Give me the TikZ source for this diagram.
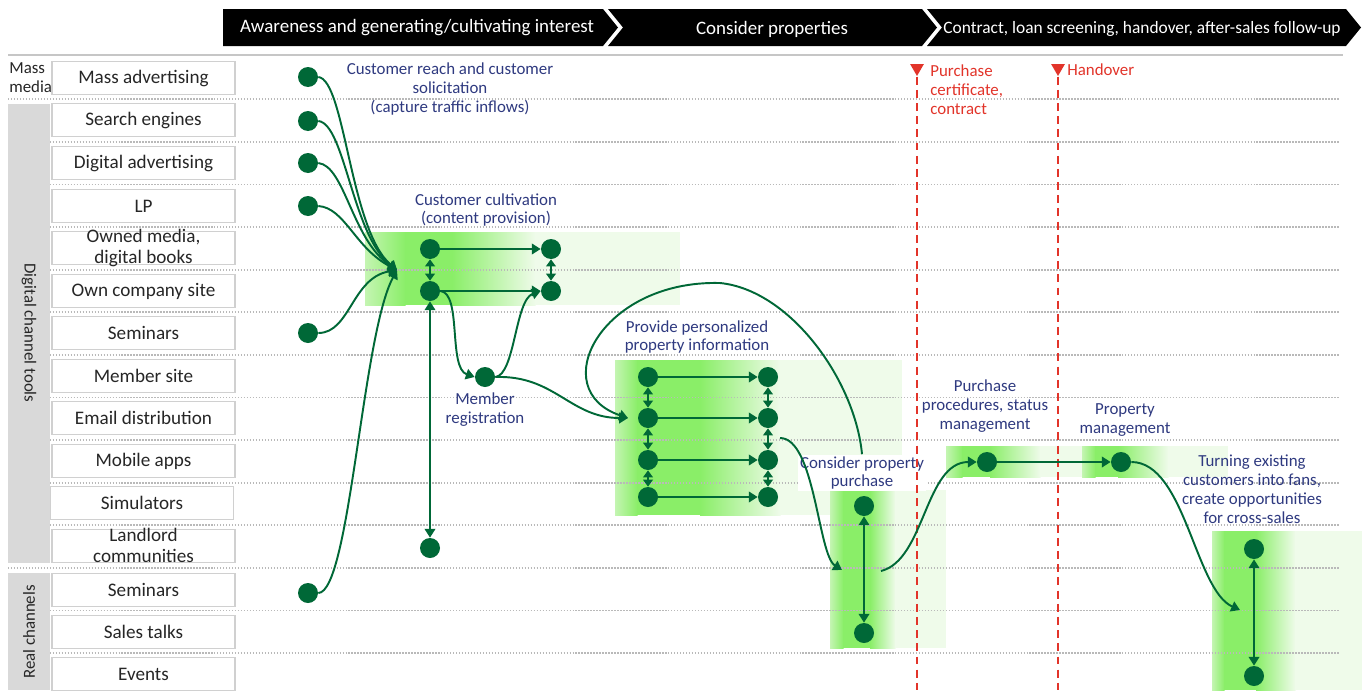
\documentclass[tikz,border=0pt]{standalone}
\usepackage{fontspec}
\setmainfont{Carlito}
\usetikzlibrary{arrows.meta,shapes.geometric}

\definecolor{dkgreen}{RGB}{0,104,55}
\definecolor{stepblue}{RGB}{47,58,128}
\definecolor{markred}{RGB}{226,52,42}
\definecolor{barGray}{RGB}{217,217,217}
\definecolor{boxGray}{RGB}{208,208,208}
\definecolor{dotGray}{RGB}{185,185,185}
\definecolor{gBright}{RGB}{138,238,104}
\definecolor{gLight}{RGB}{196,245,178}
\definecolor{gPale}{RGB}{239,251,234}

\newcommand{\lblfont}{\fontsize{9.6}{10.8}\selectfont}
\newcommand{\chanfont}{\fontsize{10.9}{12}\selectfont}
\newcommand{\hdrfont}{\fontsize{10.8}{12}\selectfont}
\newcommand{\twoline}[2]{\raisebox{-2.6pt}[0pt][0pt]{\parbox[c]{3.4cm}{\centering #1\\#2}}}
% green band: light -> bright -> pale, x0..x4, y0..y1
\newcommand{\greenband}[7]{%
  \shade[left color=gLight,right color=gBright] (#1,#6) rectangle (#2+0.5,#7);
  \fill[gBright] (#2,#6) rectangle (#3+0.5,#7);
  \shade[left color=gBright,right color=gPale] (#3,#6) rectangle (#4+0.5,#7);
  \fill[gPale] (#4,#6) rectangle (#5,#7);}

\begin{document}
\begin{tikzpicture}[x=0.02cm,y=-0.02cm,
  >={Triangle[length=5pt,width=6pt]},
  dot/.style={circle,fill=dkgreen,minimum size=0.4cm,inner sep=0pt},
  chan/.style={draw=boxGray,line width=0.9pt,fill=white,minimum width=3.66cm,
    minimum height=0.66cm,inner sep=0pt,font=\chanfont,text=black!85},
  stepname/.style={text=stepblue,font=\lblfont,align=center,inner sep=1pt},
  flow/.style={draw=dkgreen,line width=1.1pt,->},
  twoway/.style={draw=dkgreen,line width=1.1pt,<->},
  shortway/.style={draw=dkgreen,line width=1.1pt,
    {Triangle[length=4pt,width=5.5pt]}-{Triangle[length=4pt,width=5.5pt]}},
  lane/.style={dotGray,line width=0.8pt,dash pattern=on 0.8pt off 0.9pt},
  stage/.style={text=white,font=\hdrfont},
  cutoff/.style={markred,line width=1.1pt,dash pattern=on 4.5pt off 3pt},
  milestone/.style={regular polygon,regular polygon sides=3,shape border rotate=180,
    fill=markred,minimum size=0.32cm,inner sep=0pt},
  redtag/.style={text=markred,font=\lblfont,align=left,anchor=west,inner sep=0pt}]
\useasboundingbox (0,0) rectangle (1362,690);
\fill[white] (0,0) rectangle (1362,690);

% phases
\fill (223,9) -- (603,9) -- (618,27.5) -- (603,46) -- (223,46) -- cycle;
\fill (608,9) -- (922,9) -- (937,27.5) -- (922,46) -- (608,46) -- (623,27.5) -- cycle;
\fill (927,9) -- (1346,9) -- (1361,27.5) -- (1346,46) -- (927,46) -- (942,27.5) -- cycle;
\node[stage] (st1) at (417,27.5) {Awareness and generating/cultivating interest};
\node[stage] (st2) at (772,29) {Consider properties};
\node[stage,font=\fontsize{9.9}{12}\selectfont] (st3) at (1142,29) {Contract, loan screening, handover, after-sales follow-up};
\draw[gray!45,line width=1.2pt] (8,55) -- (1343,55);

% green areas
\greenband{365}{405}{452}{535}{680}{232}{305}
\greenband{615}{637}{700}{780}{902}{360}{515}
\greenband{830}{843}{870}{895}{946}{490}{648}
\greenband{946}{962}{990}{1040}{1082}{446}{477}
\greenband{1082}{1095}{1118}{1168}{1228}{446}{477}
\greenband{1212}{1224}{1256}{1295}{1362}{531}{690}

% lanes
\foreach \y in {99,142,184.5,227,270,312,355,397.5,440,483,525,568,610.5,653}
  \draw[lane] (8,\y) -- (1340,\y);

% channels
\fill[barGray] (8,104) rectangle (50,563);
\fill[barGray] (8,573) rectangle (50,690);
\node[font=\lblfont,align=left,anchor=west,inner sep=0pt,text=black!85] (mass) at (9,78) {Mass\\media};
\node[rotate=-90,font=\lblfont,text=black!85] (digi) at (29,333) {Digital channel tools};
\node[rotate=90,font=\lblfont,text=black!85] (real) at (29,632) {Real channels};

\node[chan] (massad) at (143.5,78) {Mass advertising};
\node[chan] (search) at (143.5,120) {Search engines};
\node[chan] (digad) at (143.5,163) {Digital advertising};
\node[chan] (lp) at (143.5,206) {LP};
\node[chan] (owned) at (143.5,248) {\twoline{Owned media,}{digital books}};
\node[chan] (site) at (143.5,291) {Own company site};
\node[chan] (webinar) at (143.5,333) {Seminars};
\node[chan] (member) at (143.5,376) {Member site};
\node[chan] (email) at (143.5,418) {Email distribution};
\node[chan] (apps) at (143.5,461) {Mobile apps};
\node[chan] (sim) at (142,503) {Simulators};
\node[chan] (landlord) at (143.5,546) {\twoline{Landlord}{communities}};
\node[chan] (seminar) at (143.5,590) {Seminars};
\node[chan] (talks) at (143.5,632) {Sales talks};
\node[chan] (events) at (143.5,674) {Events};

% step labels
\node[stepname] (reachlbl) at (450,89) {Customer reach and customer\\solicitation\\(capture traffic inflows)};
\node[stepname] (cultlbl) at (486,210) {Customer cultivation\\(content provision)};
\node[stepname] (perslbl) at (697,337) {Provide personalized\\property information};
\node[stepname] (memberlbl) at (485,410) {Member\\registration};
\node[stepname,fill=white] (conslbl) at (862,473) {Consider property\\purchase};
\node[stepname] (proclbl) at (985,406) {Purchase\\procedures, status\\management};
\node[stepname] (mgmtlbl) at (1125,420) {Property\\management};
\node[stepname] (fanlbl) at (1252,489) {Turning existing\\customers into fans,\\create opportunities\\for cross-sales};

% milestones
\node[milestone] (pcert) at (917,68) {};
\node[milestone] (handover) at (1058,68) {};
\coordinate (pcertend) at (917,690);
\coordinate (handend) at (1058,690);
\draw[cutoff] (pcert.south) -- (pcertend);
\draw[cutoff] (handover.south) -- (handend);
\node[redtag] (pcertlbl) at (930,90) {Purchase\\certificate,\\contract};
\node[redtag] (handlbl) at (1067,70) {Handover};

% dots
\node[dot] (srcmass) at (308,77) {};
\node[dot] (srcsearch) at (308,121) {};
\node[dot] (srcdigad) at (308,163) {};
\node[dot] (srclp) at (308,206) {};
\node[dot] (srcwebinar) at (308,333) {};
\node[dot] (srcseminar) at (308,593) {};

\node[dot] (cult1) at (430,249) {};
\node[dot] (cult2) at (551,249) {};
\node[dot] (cult3) at (430,291) {};
\node[dot] (cult4) at (551,291) {};
\node[dot] (landdot) at (430,548) {};
\node[dot] (memdot) at (485,377) {};

\node[dot] (cons1) at (864,506) {};
\node[dot] (cons2) at (864,633) {};
\node[dot] (procdot) at (987,462) {};
\node[dot] (mgmtdot) at (1121,462) {};
\node[dot] (fan1) at (1254,549) {};
\node[dot] (fan2) at (1254,676) {};

\coordinate (cultin) at (397,270);
\coordinate (persin) at (628,418);
\coordinate (persout) at (780,438);
\coordinate (consin) at (842,570);
\coordinate (consout) at (881,571);
\coordinate (fanin) at (1240,610);

% inflows
\draw[flow] (srcmass.east) .. controls (345,80) and (350,230) .. (cultin);
\draw[flow] (srcsearch.east) .. controls (345,124) and (352,235) .. (cultin);
\draw[flow] (srcdigad.east) .. controls (345,166) and (352,240) .. (cultin);
\draw[flow] (srclp.east) .. controls (345,208) and (355,248) .. (cultin);
\draw[flow] (srcwebinar.east) .. controls (350,333) and (352,278) .. (cultin);
\draw[flow] (srcseminar.east) .. controls (350,592) and (362,335) .. (cultin);

% cultivation
\draw[flow] (cult1) -- (cult2);
\draw[flow] (cult3) -- (cult4);
\draw[shortway] (cult1) -- (cult3);
\draw[shortway] (cult2) -- (cult4);
\draw[twoway] (cult3) -- (landdot);
\draw[flow] (cult3.east) .. controls (462,293) and (448,368) .. (memdot.west);
\draw[flow] (memdot.east) .. controls (515,375) and (515,300) .. (cult4.west);
\draw[flow] (memdot.east) .. controls (555,375) and (570,418) .. (persin);

% personalized information
\foreach \i/\y in {1/377,2/418,3/460,4/497} {
  \node[dot] (pa\i) at (648,\y) {};
  \node[dot] (pb\i) at (768,\y) {};
  \draw[flow] (pa\i) -- (pb\i);
}
\foreach \i/\j in {1/2,2/3,3/4} {
  \draw[shortway] (pa\i) -- (pa\j);
  \draw[shortway] (pb\i) -- (pb\j);
}
\draw[flow] (conslbl.north) .. controls (855,380) and (790,290) .. (720,283)
  .. controls (600,280) and (545,390) .. (persin);
\draw[flow] (persout) .. controls (815,438) and (818,555) .. (consin);

% purchase and after
\draw[twoway] (cons1) -- (cons2);
\draw[flow] (consout) .. controls (925,560) and (925,462) .. (procdot.west);
\draw[flow] (procdot) -- (mgmtdot);
\draw[flow] (mgmtdot.east) .. controls (1185,462) and (1195,590) .. (fanin);
\draw[twoway] (fan1) -- (fan2);
\end{tikzpicture}
\end{document}
